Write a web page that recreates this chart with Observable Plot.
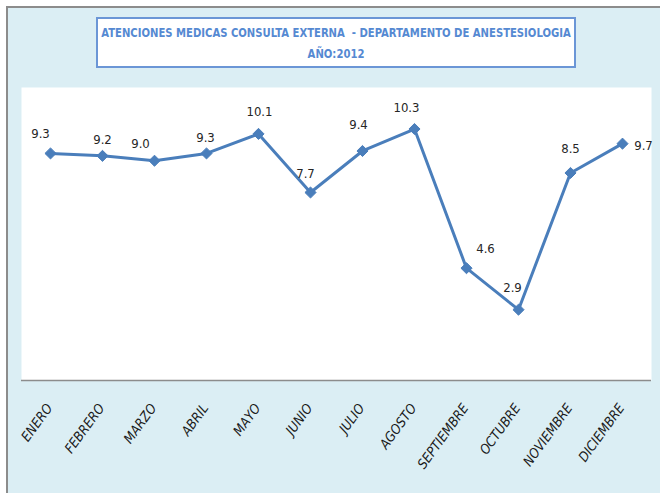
<!DOCTYPE html>
<html>
<head>
<meta charset="utf-8">
<script src="https://cdn.jsdelivr.net/npm/d3@7"></script>
<script src="https://cdn.jsdelivr.net/npm/@observablehq/plot@0.6"></script>
<style>
  html, body { margin: 0; padding: 0; background: #ffffff; }
  #wrap { position: relative; width: 660px; height: 493px; overflow: hidden; }
  #frame { position: absolute; left: 6px; top: 6px; width: 680px; height: 500px;
           background: #dbeef4; border-left: 2px solid #8c8c8c; border-top: 2px solid #8c8c8c; }
  #title { position: absolute; left: 96px; top: 17px; width: 476px; height: 47px;
           background: #ffffff; border: 2px solid #6b96d6;
           font-family: "DejaVu Sans Condensed", "Liberation Sans", sans-serif; font-weight: bold;
           font-size: 13px; color: #5589d2; }
  #title .line { position: absolute; left: 50%; white-space: nowrap;
                 transform: translateX(-50%) scaleX(0.86); transform-origin: center; }
  #chart { position: absolute; left: 0; top: 0; }
</style>
</head>
<body>
<div id="wrap">
  <div id="frame"></div>
  <div id="chart"></div>
  <div id="title">
    <div class="line" style="top:6px">ATENCIONES MEDICAS CONSULTA EXTERNA&nbsp; - DEPARTAMENTO DE ANESTESIOLOGIA</div>
    <div class="line" style="top:27px">AÑO:2012</div>
  </div>
</div>
<script>
// ---- data ----
const months = ["ENERO","FEBRERO","MARZO","ABRIL","MAYO","JUNIO","JULIO","AGOSTO","SEPTIEMBRE","OCTUBRE","NOVIEMBRE","DICIEMBRE"];
const values = [9.3, 9.2, 9.0, 9.3, 10.1, 7.7, 9.4, 10.3, 4.6, 2.9, 8.5, 9.7];

// ---- style: label placement offsets (px) ----
const labelDx = [-10, 0, -14, -1, 1, -5, -4, -8, 19, -6, 0, 21];
const labelDy = [-20, -16, -17, -16, -22, -19, -26, -21, -19, -22, -24, 2];

const data = months.map((m, i) => ({month: m, value: values[i], dx: labelDx[i], dy: labelDy[i]}));

const font = '"DejaVu Sans Condensed", "Liberation Sans", sans-serif';

const plot = Plot.plot({
  width: 660,
  height: 493,
  marginTop: 87,
  marginLeft: 21,
  marginRight: 9,
  marginBottom: 113,
  style: { background: "transparent", fontFamily: font, overflow: "visible" },
  x: { type: "point", domain: months, padding: 0.5, label: null },
  y: { domain: [0, 12], axis: null },
  marks: [
    Plot.frame({ fill: "white", stroke: null }),
    Plot.ruleY([0], { stroke: "#8c8c8c", strokeWidth: 1.5 }),
    Plot.axisX({ tickSize: 0, tickRotate: -54, tickPadding: 25, fontSize: 13.5, fontStyle: "italic",
                 fill: "#1a1a1a", label: null, dx: -1 }),
    Plot.line(data, { x: "month", y: "value", stroke: "#4a7ebb", strokeWidth: 3, strokeLinejoin: "round" }),
    Plot.dot(data, { x: "month", y: "value", symbol: "diamond2", r: 5, fill: "#4a7ebb", stroke: "#4a7ebb", strokeWidth: 1 }),
    ...data.map(d => Plot.text([d], { x: "month", y: "value", text: v => v.value.toFixed(1),
                 dx: d.dx, dy: d.dy, fontSize: 13, fill: "#262626" }))
  ]
});
document.getElementById("chart").appendChild(plot);
d3.select(plot).selectAll('g[aria-label="x-axis tick label"] text').style("font-style", "italic");
</script>
</body>
</html>
